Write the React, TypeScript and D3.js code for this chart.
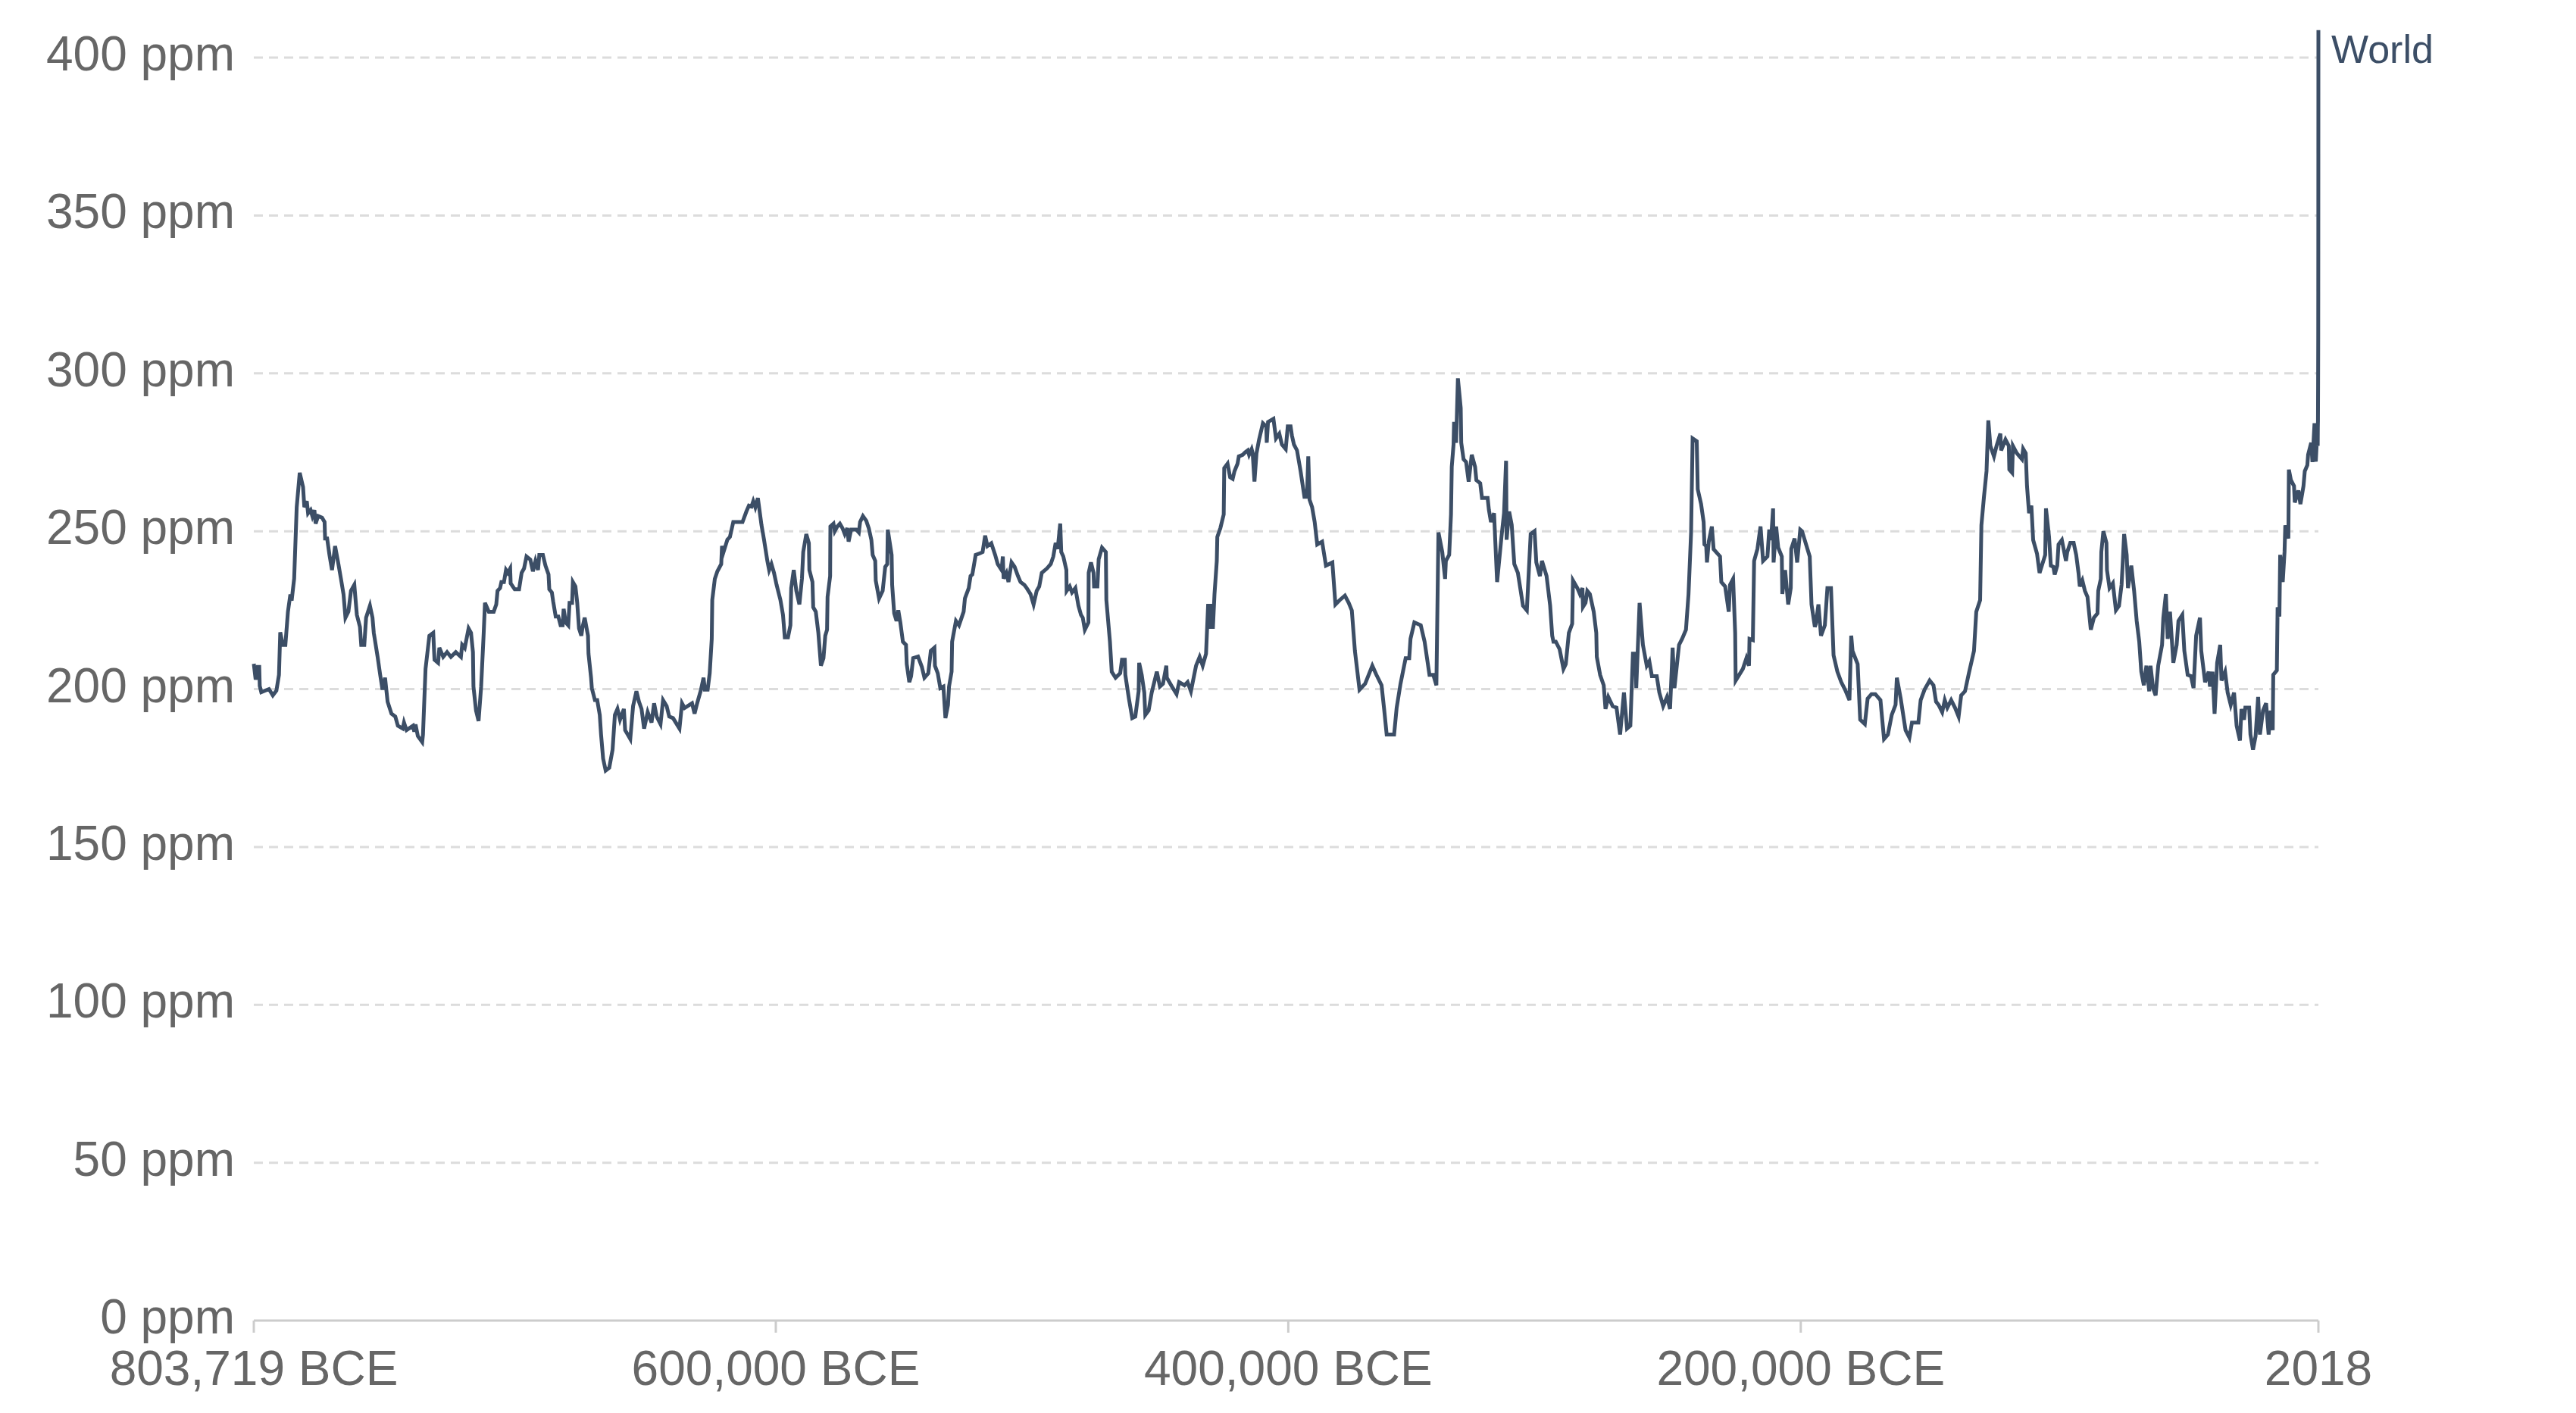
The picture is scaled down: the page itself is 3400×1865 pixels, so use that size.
import React from "react";
import * as d3 from "d3";

const years: number[] = [
  -803719, -803000, -802200, -801600, -801400, -800800, -797800, -796300, -794900, -793900,
  -793400, -792400, -791400, -790400, -789450, -788950, -787970, -786980, -785800, -784500,
  -784000, -783040, -782540, -781560, -780870, -780080, -779600, -778600, -777100, -776100,
  -775900, -775100, -774200, -773200, -772000, -770700, -769700, -768700, -767950, -766800,
  -765800, -764500, -763500, -762300, -761800, -760600, -759900, -758400, -757400, -756900,
  -755400, -754400, -753500, -752500, -751500, -750000, -748500, -747500, -745600, -745100,
  -744100, -741600, -741100, -740600, -739700, -738000, -737700, -736700, -735200, -733700,
  -733200, -731800, -731300, -729800, -728300, -726800, -724900, -722900, -722400, -721400,
  -719900, -718950, -718200, -718000, -717000, -716000, -715000, -714000, -713500, -712000,
  -710100, -709100, -708600, -707600, -707100, -706100, -705300, -704600,
  // 704k - 602k
  -703670, -703480, -701900, -700200, -699200, -698250, -697300, -695800, -694800, -693800,
  -692800, -692300, -690900, -689900, -688700, -688400, -687400, -686900, -685900, -684900,
  -684000, -683200, -682800, -682000, -681000, -680500, -679500, -679200, -678200, -677500,
  -676800, -675900, -675400, -674600, -673300, -673100, -672100, -671800, -670600, -669700,
  -668700, -668200, -667400, -666400, -665000, -663700, -662800, -661800, -660800, -659300,
  -658800, -657800, -656800, -656200, -655700, -654400, -653400, -652400, -651400, -650000,
  -648500, -647500, -646500, -645000, -644000, -642600, -641600, -640100, -637600, -636600,
  -635600, -633700, -632700, -631700, -630700, -629200, -628200, -627700, -626600, -625800,
  -625000, -624800, -623800, -622800, -621300, -621000, -620400, -618900, -617900, -616600,
  -613000, -611500, -610500, -609500, -608800, -608000, -607000, -605600, -604600, -603300,
  -602600,
  // 602k - 500k
  -601700, -600700, -599700, -598200, -597200, -596500, -595250, -594300, -594000, -593000,
  -592000, -590800, -589800, -589300, -588100, -587100, -586900, -585700, -585400, -584400,
  -583400, -582400, -581400, -580700, -580000, -579800, -578800, -578700, -577500, -577000,
  -576000, -575000, -574000, -573100, -572100, -571600, -570600, -568600, -567600, -567100,
  -566000, -564700, -563700, -562700, -562200, -561200, -561000, -559700, -558300, -557300,
  -556500, -556300, -555500, -554800, -554600, -553800, -552900, -552200, -551400, -550400,
  -549200, -548900, -547900, -547200, -546400, -544500, -543000, -542000, -540500, -539500,
  -538100, -537900, -536800, -535800, -534600, -533800, -532800, -532400, -531400, -531200,
  -529700, -528500, -527700, -526700, -526200, -524700, -524000, -523300, -522000, -520300,
  -519300, -518300, -517400, -515900, -514400, -513400, -511900, -511400, -511100, -510000,
  -509200, -508000, -506800, -505500, -504500, -503000, -502100, -500600,
  // 500k - 398k
  -499400, -498200, -497200, -496200, -494200, -492700, -491700, -490800, -490000, -489000,
  -488600, -487800, -486600, -486500, -485300, -484400, -483100, -481900, -480900, -480200,
  -479400, -478000, -477900, -477000, -476000, -475800, -474500, -474000, -472700, -471200,
  -471000, -469600, -468900, -467400, -465600, -464900, -463800, -463600, -462200, -460900,
  -459700, -458400, -458200, -457200, -456200, -455800, -454500, -453300, -451300, -450100,
  -448900, -447600, -447400, -445400, -443600, -442600, -440500, -439300, -438000, -436000,
  -434600, -433400, -432100, -431300, -430400, -430300, -429400, -428800, -427900, -427700,
  -426500, -425200, -425000, -423700, -422700, -421700, -421000, -419800, -419300, -417800,
  -416800, -415800, -415300, -414300, -413900, -413200, -412400, -411400, -409900, -408600,
  -408400, -407900, -405800, -404800, -403500, -402500, -401000, -400200, -399100, -398600,
  // 398k - 296k
  -397800, -396600, -395200, -393700, -392700, -392200, -391700, -390700, -389700, -388700,
  -386800, -385300, -382800, -381600, -379900, -377900, -376400, -375200, -374000, -372200,
  -370000, -367200, -365600, -363600, -362600, -361600, -358700, -357700, -356200, -354200,
  -352800, -352300, -350800, -348300, -346800, -344900, -343400, -342200, -341400, -339900,
  -338800, -338500, -337200, -336500, -336200, -335500, -335300, -334500, -333800, -332700,
  -332500, -331600, -330600, -329600, -328400, -327100, -326600, -325100, -324400, -322200,
  -321700, -320900, -319700, -318500, -316800, -315800, -315000, -314800, -313800, -312800,
  -311800, -310400, -308400, -306900, -305400, -303900, -303200, -301800, -301000, -299200,
  -297800, -297000, -296500,
  // 296k - 194k
  -295600, -294100, -292600, -291700, -290500, -289200, -288900, -287200, -286200, -285200,
  -285000, -284000, -283300, -282300, -280800, -279800, -279600, -278300, -276900, -276200,
  -275100, -273400, -271900, -270500, -269000, -267800, -266500, -265500, -264500, -264200,
  -262900, -261600, -260100, -259100, -258100, -256200, -255200, -253700, -252200, -251000,
  -250000, -249300, -247500, -246300, -244800, -243800, -242800, -242200, -240600, -240200,
  -238900, -237900, -237600, -236900, -236600, -235900, -234700, -234000, -231500, -231000,
  -229500, -228100, -227600, -226400, -225600, -225400, -222600, -221200, -220200, -220000,
  -218700, -218200, -216900, -215700, -214700, -213000, -212300, -211600, -210800, -210600,
  -209600, -208800, -207400, -207200, -206100, -204900, -203900, -203700, -202400, -201400,
  -200200, -199500, -196500, -195800, -194500,
  // 194k - 92k
  -194100, -193100, -192100, -190600, -189600, -188200, -187200, -185700, -184200, -182700,
  -181000, -180300, -179800, -177800, -176800, -175000, -173900, -172400, -170900, -168900,
  -167500, -166000, -164500, -163000, -162500, -161000, -159100, -157600, -156600, -154100,
  -153200, -151700, -149700, -148200, -147200, -146200, -144800, -143800, -142800, -141300,
  -139800, -138400, -137400, -135900, -134400, -132400, -131500, -130000, -129500, -128500,
  -127500, -126800, -126000, -124600, -123600, -122100, -121800, -120100, -118800, -118600,
  -117500, -117200, -115700, -113700, -113200, -112200, -111700, -110900, -110000, -109300,
  -107800, -106800, -104600, -104300, -103100, -102400, -101400, -100900, -99900, -99400,
  -98100, -96500, -96000, -94800, -93500, -92500,
  // 92k - present
  -91600, -91100, -90100, -89100, -88100, -86800, -85600, -84200, -83900, -82900,
  -82700, -81900, -80700, -80500, -79500, -78200, -77000, -75800, -74800, -74300,
  -73800, -72800, -72300, -71000, -69900, -68900, -67900, -67100, -66100, -65100,
  -64000, -63500, -62500, -61500, -60500, -59000, -58500, -57500, -56800, -55900,
  -54600, -53300, -52600, -51100, -50300, -49000, -47700, -46700, -45700, -44200,
  -43700, -42200, -40800, -40300, -39300, -38500, -37500, -36300, -35800, -34400,
  -33400, -32200, -30900, -29900, -28600, -28000, -27000, -26500, -25000, -24500,
  -23500, -22500, -21500, -20800, -19600, -18400, -17400, -16600, -15800, -15600,
  -14200, -13900, -13200, -12900, -11900, -11200, -10900, -9700, -9500, -8700,
  -7500, -7200, -5800, -5000, -3800, -3300, -2300, -2000, -800, -300,
  500, 1000, 1500, 1750, 1800, 1850, 1900, 1950, 1960, 1970,
  1980, 1990, 2000, 2010, 2018,
];

const co2ppm: number[] = [
  208, 203, 207, 207, 201, 199, 200, 198, 199.5, 204.5,
  218, 214, 214, 224.5, 230, 228, 235, 257.6, 268.5, 264,
  257.6, 259.5, 255.7, 256.7, 254.8, 256.7, 252.4, 254.8, 254.3, 252.9,
  247.7, 247.7, 242.5, 237.7, 245.3, 239.6, 234.9, 230, 222.6, 224.5,
  231.1, 233, 223.5, 219.7, 214, 214, 222.6, 226.4, 222.6, 217.8,
  210.2, 204.5, 199.8, 203.6, 196, 192.2, 191.3, 188.4, 187.5, 189.4,
  187, 188.4, 186.5, 188.8, 185.1, 183.2, 185.6, 206.4, 216.9, 217.8,
  209.3, 208.3, 213.1, 210.2, 211.7, 210.2, 211.7, 210.2, 214, 213,
  219.2, 217.8, 211.7, 200.8, 193.2, 189.9, 200.8, 217.8, 227.3, 224.5,
  224.5, 226.8, 231.1, 232, 233.9, 233.9, 237.7, 236.8,
  // 704k - 602k
  238.2, 233.5, 231.6, 231.6, 236.8, 238.2, 242, 241, 237.3, 240.6,
  237.7, 242.5, 242.5, 239.1, 236.3, 231.6, 230.6, 227.8, 223, 223,
  220.2, 220.2, 225.4, 221.1, 220.2, 227.3, 227.3, 233.9, 232.5, 227.3,
  219.2, 216.9, 219.7, 222.6, 216.9, 211.2, 203.6, 200.3, 196.5, 196.5,
  191.8, 185.6, 178, 174.2, 175.1, 180.8, 191.8, 193.7, 190.3, 193.7,
  187, 185.6, 184.2, 189.9, 194.6, 199.3, 196, 193.7, 187.5, 192.7,
  189.4, 195.5, 191.3, 188.9, 196.5, 194.6, 191.3, 190.8, 187.5, 195.5,
  194, 195, 195.5, 192.2, 195.5, 199.8, 203.6, 199.8, 199.8, 205,
  215.9, 228.2, 234.9, 237.3, 239.6, 245.3, 243.4, 247.3, 248.2, 252.9,
  252.9, 256.2, 258.1, 257.8, 259.5, 257.6, 260.5, 252, 247.3, 240.6,
  237.7,
  // 602k - 500k
  239.6, 236.8, 233, 228.2, 223.5, 216.4, 216.4, 220.2, 232, 237.7,
  231.1, 226.8, 235, 243.4, 249.1, 246.2, 237.7, 233.9, 225.9, 224.5,
  217.8, 207.4, 209.8, 216.9, 218.8, 229.2, 235.8, 251.5, 252.4, 250,
  251.5, 252.4, 251, 249.1, 251, 246.7, 250.5, 250.5, 249.6, 252.9,
  254.8, 253.3, 250.9, 247.2, 242.5, 240.6, 234.4, 228.7, 231.1, 238.7,
  239.6, 250.5, 246.2, 242.5, 233, 224, 221.6, 225, 221.1, 215,
  214, 207.9, 202.2, 204.1, 209.8, 210.3, 207, 203.6, 205, 212.1,
  213.1, 207.4, 205, 200.3, 200.8, 190.8, 195, 200.8, 205.5, 215,
  221.6, 220.2, 222.1, 224.5, 228.7, 232, 235.8, 236.3, 242.5, 243,
  243.4, 248.6, 245.3, 246.2, 242.5, 239.6, 237.7, 242, 235, 236.8,
  233.9, 240.1, 238.7, 235.8, 233.9, 233, 232, 230.1,
  // 500k - 398k
  226.8, 231.1, 232.5, 236.8, 238.2, 239.6, 242, 246.3, 244.4, 252.4,
  243.4, 242, 237.7, 231.1, 232.5, 230.6, 232, 226.4, 223.5, 222.6,
  218.8, 221.1, 236.8, 240.1, 236.8, 232.5, 232.5, 241.1, 244.8, 243.4,
  228.2, 215, 205.5, 203.6, 205, 209.3, 209.3, 204.5, 197, 190.8,
  191.3, 199.3, 208.3, 204.5, 198.9, 191.8, 193.2, 198.9, 205.5, 200.8,
  201.7, 207.4, 203.6, 200.8, 198.4, 202.2, 201.2, 202.2, 199.3, 207.4,
  210.2, 207.4, 211.2, 226.4, 226.4, 219.7, 219.7, 230, 240.6, 248.2,
  251, 255.3, 270, 271.4, 267.1, 266.6, 269, 271.4, 273.7, 274.2,
  275, 275.6, 274.2, 276, 274.7, 265.7, 274.7, 279, 284.2, 283.2,
  278, 284.6, 285.6, 279.4, 280.9, 277.5, 276, 283.2, 283.2, 280.4,
  // 398k - 296k
  277.5, 275.6, 269, 260.9, 260.9, 273.7, 260, 257.6, 252.9, 245.8,
  246.7, 239.1, 240.1, 226.8, 228.2, 229.6, 227.3, 224.9, 212.1, 199.8,
  201.7, 207.4, 204.5, 201.2, 193.7, 185.6, 185.6, 194.1, 201.7, 209.8,
  209.8, 215.9, 221.1, 220.2, 215, 204.5, 204.5, 201.2, 249.6, 243.4,
  234.9, 240.6, 242.5, 255.3, 270.4, 277.5, 284.6, 278, 298.4, 289,
  278, 272.8, 271.9, 265.7, 274.2, 270.4, 266.2, 265.2, 260.5, 260.5,
  256.7, 252.9, 255.7, 233.9, 248.2, 255.7, 272.3, 247.3, 256.2, 252,
  239.6, 236.8, 226.4, 224.9, 249.1, 250, 240.1, 235.8, 240.6, 235.8,
  226.4, 216.9, 215,
  // 296k - 194k
  215, 212.6, 206.4, 207.9, 217.8, 220.7, 234.4, 232, 230.1, 232,
  226, 227.3, 231.1, 230.1, 224.5, 217.8, 210.2, 204.5, 201.2, 193.7,
  197.5, 194.6, 194.1, 185.6, 198.9, 187.5, 188.4, 211.2, 211.2, 200.3,
  227.3, 214, 207.4, 208.8, 204.1, 204.1, 198.9, 194.6, 197.5, 193.7,
  213.1, 200.3, 214, 215.9, 218.8, 230.1, 249.6, 279.4, 278.5, 263.3,
  258.6, 252.9, 245.8, 245.3, 240.1, 246.7, 251.5, 244.3, 242, 233.9,
  232.5, 224.5, 233, 234.9, 217.8, 202.7, 206.4, 209.8, 207.4, 215.9,
  215.5, 240.6, 244.4, 251.5, 240.6, 242, 250.5, 247.2, 257.2, 240.1,
  251.5, 244.8, 242, 230.1, 237.7, 226.8, 232, 244.4, 247.7, 240.1,
  250.5, 250, 242, 226.8, 219.7,
  // 194k - 92k
  220.7, 226.8, 216.9, 220.2, 232, 232, 210.7, 205.5, 202.2, 199.8,
  196.5, 216.9, 212.1, 207.9, 190.3, 188.9, 197, 198.4, 198.4, 196.5,
  184.2, 185.6, 191.8, 195, 203.6, 197, 187, 184.6, 189.4, 189.4,
  196.5, 199.8, 202.7, 201.2, 196, 195, 192.7, 196.5, 194.1, 196.5,
  194.1, 191.3, 198, 199.3, 205, 212.1, 224.5, 228.2, 251.9, 260.9,
  269, 285.1, 277, 273.7, 277, 280.9, 275.6, 279, 277, 269.5,
  268.5, 277, 274.7, 272.8, 276.1, 274.7, 264.3, 255.7, 258.1, 247.2,
  242.9, 236.8, 242.5, 257.2, 248.2, 239.1, 238.7, 236.3, 239.1, 245.8,
  247.2, 240.6, 243.4, 246.3, 246.3, 242.5,
  // 92k - present
  236.8, 232.5, 234.4, 231.1, 229.2, 218.8, 222.6, 224, 231.1, 234.9,
  243.4, 250, 246.3, 237.7, 232, 233.5, 225, 226.4, 233, 240.6,
  249.1, 242.5, 232, 239.1, 231.1, 221.6, 215, 205.5, 201.2, 207.4,
  199.3, 207.4, 200.3, 198, 207.4, 214, 222.6, 230.1, 215.9, 224.5,
  208.3, 214, 221.6, 223.5, 212.1, 204.5, 204.1, 200.3, 216.9, 222.6,
  212.1, 202.2, 205.5, 200.8, 205.5, 192.2, 208.3, 214, 202.7, 205.5,
  198.9, 195, 198.9, 188.4, 183.7, 193.7, 190.3, 194.1, 194.1, 185.6,
  180.8, 185.1, 197.5, 185.6, 193.2, 195.5, 185.6, 193.2, 187, 204.5,
  205.9, 225.9, 223, 242.5, 233.9, 243.4, 251.9, 247.7, 269.5, 266.2,
  264.3, 259.1, 262.9, 258.6, 264.3, 269, 270.9, 274.2, 278, 271.9,
  284.2, 272, 280, 277, 283, 285, 296, 311, 317, 326,
  339, 354, 369.6, 389.9, 408.7,
];

const yTicks: number[] = [0, 50, 100, 150, 200, 250, 300, 350, 400];
const xTickValues: number[] = [-803719, -600000, -400000, -200000, 2018];
const xTickLabels: string[] = ["803,719 BCE", "600,000 BCE", "400,000 BCE", "200,000 BCE", "2018"];
const seriesName = "World";

const W = 3400;
const H = 1865;
const FONT = "'Liberation Sans', Arial, Helvetica, sans-serif";

export default function App() {
  const x = d3.scaleLinear().domain([-803719, 2018]).range([335, 3060]);
  const y = d3.scaleLinear().domain([0, 400]).range([1743, 76]);
  const pts: [number, number][] = years.map((yr, i) => [yr, co2ppm[i]]);
  const line = d3
    .line<[number, number]>()
    .x((d) => x(d[0]))
    .y((d) => y(d[1]));
  const lastVal = co2ppm[co2ppm.length - 1];
  const lastYear = years[years.length - 1];

  return (
    <div style={{ position: "fixed", left: 0, top: 0, background: "#fff" }}>
      <svg width={W} height={H} viewBox={`0 0 ${W} ${H}`} style={{ display: "block" }}>
        <rect x={0} y={0} width={W} height={H} fill="#fff" />
        {yTicks
          .filter((t) => t > 0)
          .map((t) => (
            <line
              key={"g" + t}
              x1={x(-803719)}
              x2={x(2018)}
              y1={y(t)}
              y2={y(t)}
              stroke="#dcdcdc"
              strokeWidth={3}
              strokeDasharray="12,8"
            />
          ))}
        <line x1={x(-803719)} x2={x(2018)} y1={y(0)} y2={y(0)} stroke="#ccc" strokeWidth={3} />
        {xTickValues.map((t) => (
          <line key={"t" + t} x1={x(t)} x2={x(t)} y1={y(0)} y2={y(0) + 16} stroke="#ccc" strokeWidth={3} />
        ))}
        {yTicks.map((t) => (
          <text
            key={"yl" + t}
            x={310}
            y={y(t) + 17}
            textAnchor="end"
            fontFamily={FONT}
            fontSize={64}
            fill="#666"
          >
            {t} ppm
          </text>
        ))}
        {xTickValues.map((t, i) => (
          <text
            key={"xl" + t}
            x={x(t)}
            y={1828}
            textAnchor="middle"
            fontFamily={FONT}
            fontSize={64}
            fill="#666"
          >
            {xTickLabels[i]}
          </text>
        ))}
        <path d={line(pts) || ""} fill="none" stroke="#3c4e66" strokeWidth={5} />
        <text x={x(lastYear) + 17} y={y(lastVal) + 43} fontFamily={FONT} fontSize={52} fill="#3c4e66">
          {seriesName}
        </text>
      </svg>
    </div>
  );
}
